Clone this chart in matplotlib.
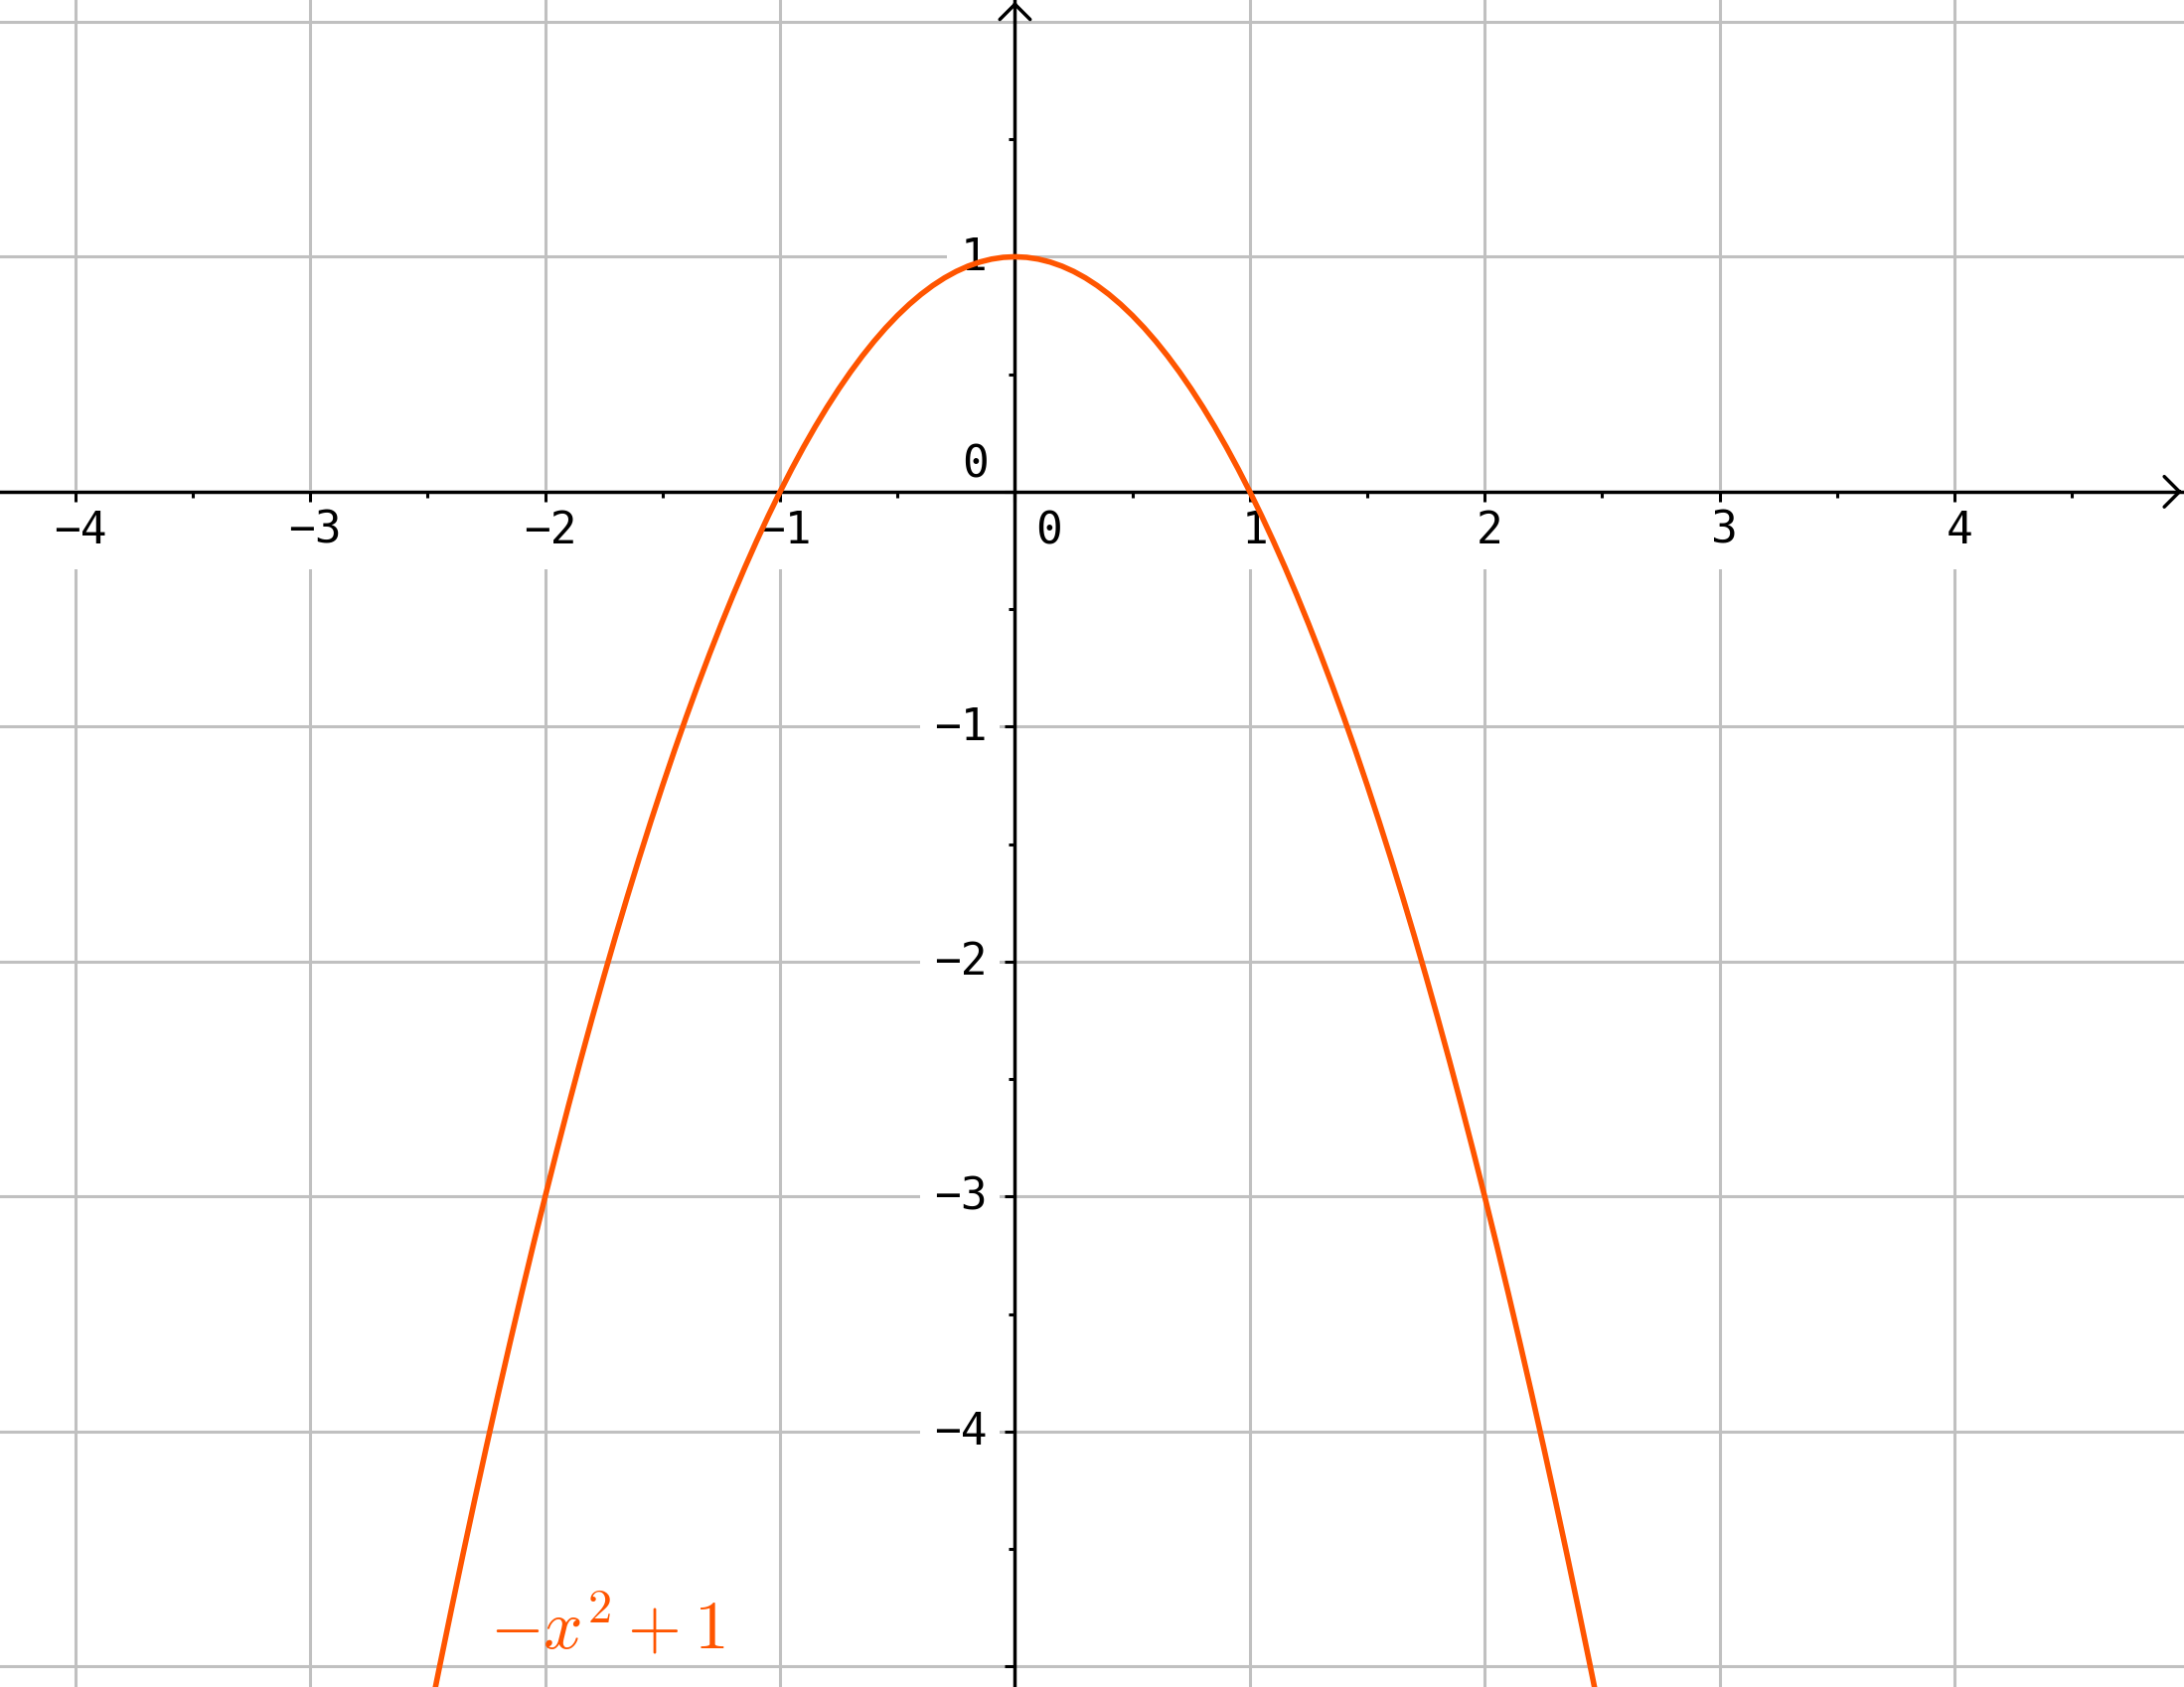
import numpy as np
import matplotlib
matplotlib.use("Agg")
import matplotlib.pyplot as plt

# curve points (orange parabola, labelled -x^2+1)
curve_x = [-2.5, -2.45, -2.4, -2.35, -2.3, -2.25, -2.2, -2.15, -2.1, -2.05,
           -2.0, -1.95, -1.9, -1.85, -1.8, -1.75, -1.7, -1.65, -1.6, -1.55,
           -1.5, -1.45, -1.4, -1.35, -1.3, -1.25, -1.2, -1.15, -1.1, -1.05,
           -1.0, -0.95, -0.9, -0.85, -0.8, -0.75, -0.7, -0.65, -0.6, -0.55,
           -0.5, -0.45, -0.4, -0.35, -0.3, -0.25, -0.2, -0.15, -0.1, -0.05,
           0.0,
           0.05, 0.1, 0.15, 0.2, 0.25, 0.3, 0.35, 0.4, 0.45, 0.5,
           0.55, 0.6, 0.65, 0.7, 0.75, 0.8, 0.85, 0.9, 0.95, 1.0,
           1.05, 1.1, 1.15, 1.2, 1.25, 1.3, 1.35, 1.4, 1.45, 1.5,
           1.55, 1.6, 1.65, 1.7, 1.75, 1.8, 1.85, 1.9, 1.95, 2.0,
           2.05, 2.1, 2.15, 2.2, 2.25, 2.3, 2.35, 2.4, 2.45, 2.5]
curve_y = [-5.25, -5.0025, -4.76, -4.5225, -4.29, -4.0625, -3.84, -3.6225, -3.41, -3.2025,
           -3.0, -2.8025, -2.61, -2.4225, -2.24, -2.0625, -1.89, -1.7225, -1.56, -1.4025,
           -1.25, -1.1025, -0.96, -0.8225, -0.69, -0.5625, -0.44, -0.3225, -0.21, -0.1025,
           0.0, 0.0975, 0.19, 0.2775, 0.36, 0.4375, 0.51, 0.5775, 0.64, 0.6975,
           0.75, 0.7975, 0.84, 0.8775, 0.91, 0.9375, 0.96, 0.9775, 0.99, 0.9975,
           1.0,
           0.9975, 0.99, 0.9775, 0.96, 0.9375, 0.91, 0.8775, 0.84, 0.7975, 0.75,
           0.6975, 0.64, 0.5775, 0.51, 0.4375, 0.36, 0.2775, 0.19, 0.0975, 0.0,
           -0.1025, -0.21, -0.3225, -0.44, -0.5625, -0.69, -0.8225, -0.96, -1.1025, -1.25,
           -1.4025, -1.56, -1.7225, -1.89, -2.0625, -2.24, -2.4225, -2.61, -2.8025, -3.0,
           -3.2025, -3.41, -3.6225, -3.84, -4.0625, -4.29, -4.5225, -4.76, -5.0025, -5.25]
curve_label = r"$-x^2+1$"

x_grid = [-4, -3, -2, -1, 0, 1, 2, 3, 4]
y_grid = [-5, -4, -3, -2, -1, 0, 1, 2]
x_major = [-4, -3, -2, -1, 0, 1, 2, 3, 4]
x_minor = [-3.5, -2.5, -1.5, -0.5, 0.5, 1.5, 2.5, 3.5, 4.5]
y_major = [-5, -4, -3, -2, -1, 0, 1]
y_minor = [-4.5, -3.5, -2.5, -1.5, -0.5, 0.5, 1.5]
x_labels = [-4, -3, -2, -1, 1, 2, 3, 4]
y_labels = [1, -1, -2, -3, -4]

orange = "#ff5500"
grid_col = "#c0c0c0"
mono = "DejaVu Sans Mono"

plt.rcParams['mathtext.fontset'] = 'cm'

fig = plt.figure(figsize=(21.98, 16.99), dpi=100)
ax = fig.add_axes([0, 0, 1, 1])
ax.set_xlim(-4.321, 4.977)
ax.set_ylim(-5.087, 2.097)

# grid lines by hand so the white label boxes can cover them
for xv in x_grid:
    ax.axvline(xv, color=grid_col, lw=2.2, zorder=1)
for yv in y_grid:
    ax.axhline(yv, color=grid_col, lw=2.2, zorder=1)

# axes through the origin
ax.spines['top'].set_visible(False)
ax.spines['right'].set_visible(False)
ax.spines['bottom'].set_position('zero')
ax.spines['left'].set_position('zero')
for s in ['bottom', 'left']:
    ax.spines[s].set_linewidth(2.5)
ax.set_axisbelow(False)
ax.set_xticks(x_major)
ax.set_xticks(x_minor, minor=True)
ax.set_yticks(y_major)
ax.set_yticks(y_minor, minor=True)
ax.tick_params(which='major', direction='out', length=7.5, width=2.2,
               labelbottom=False, labelleft=False)
ax.tick_params(which='minor', direction='out', length=4.5, width=2.2,
               labelbottom=False, labelleft=False)

# open arrow heads at the ends of the axes (short shaft, head only)
arr = dict(arrowstyle='->,head_length=0.5,head_width=0.5', lw=2.5,
           color='black', mutation_scale=22, shrinkA=0, shrinkB=0)
ax.annotate("", xy=(4.968, 0), xytext=(4.955, 0), arrowprops=arr,
            annotation_clip=False, zorder=2.6)
ax.annotate("", xy=(0, 2.085), xytext=(0, 2.072), arrowprops=arr,
            annotation_clip=False, zorder=2.6)

xbox = dict(boxstyle='square,pad=0.42', fc='white', ec='none')
ybox = dict(boxstyle='square,pad=0.3', fc='white', ec='none')

for xv in x_labels:
    ax.text(xv + 0.02, -0.161, str(xv).replace('-', '\u2212'), family=mono, fontsize=32,
            ha='center', va='center', bbox=xbox, zorder=2)
for yv in y_labels:
    ax.text(-0.12, yv, str(yv).replace('-', '\u2212'), family=mono, fontsize=32,
            ha='right', va='center', bbox=ybox, zorder=2)
# the two zeros next to the origin
ax.text(0.142, -0.165, "0", family=mono, fontsize=32, ha='center', va='center',
        bbox=xbox, zorder=2)
ax.text(-0.167, 0.12, "0", family=mono, fontsize=32, ha='center', va='center', zorder=2)

ax.plot(curve_x, curve_y, color=orange, lw=4.0, zorder=3, solid_joinstyle='round')
ax.text(-2.235, -4.922, curve_label, color=orange, fontsize=50, ha='left',
        va='baseline', zorder=3)

fig.savefig("out.png", dpi=100)
